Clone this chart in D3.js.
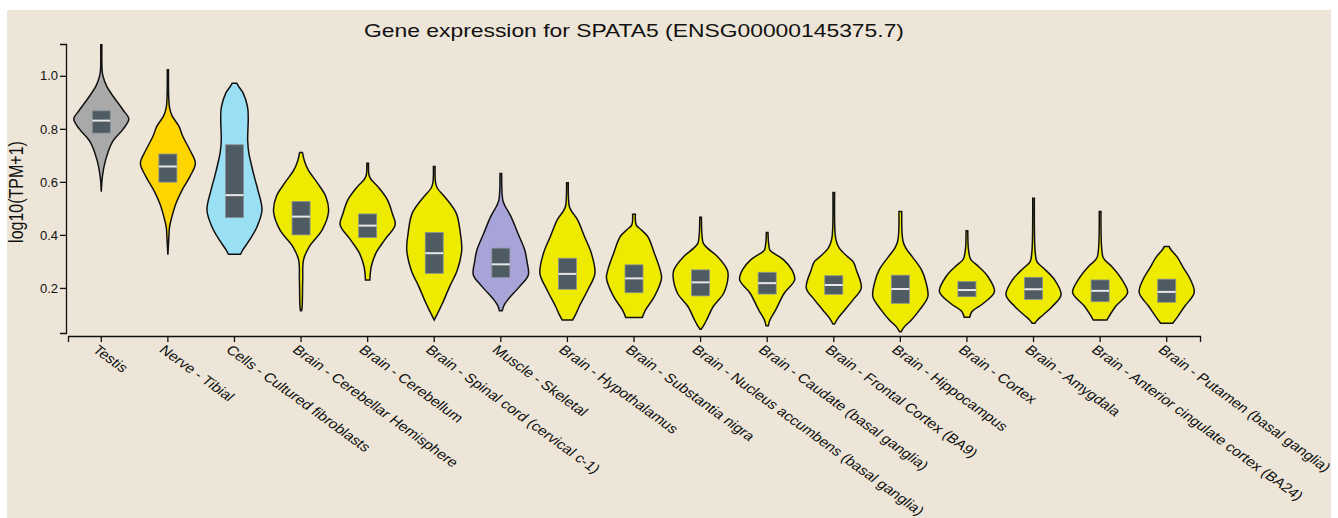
<!DOCTYPE html>
<html>
<head>
<meta charset="utf-8">
<script src="https://cdn.jsdelivr.net/npm/d3@7"></script>
<style>
  html, body { margin: 0; padding: 0; background: #ffffff; }
  svg { display: block; }
  text { font-family: "Liberation Sans", Arial, sans-serif; fill: #111; }
</style>
</head>
<body>
<svg id="chart" width="1338" height="518"></svg>
<script>
const title = "Gene expression for SPATA5 (ENSG00000145375.7)";
const yLabel = "log10(TPM+1)";

const tissues = [
  "Testis", "Nerve - Tibial", "Cells - Cultured fibroblasts",
  "Brain - Cerebellar Hemisphere", "Brain - Cerebellum",
  "Brain - Spinal cord (cervical c-1)", "Muscle - Skeletal",
  "Brain - Hypothalamus", "Brain - Substantia nigra",
  "Brain - Nucleus accumbens (basal ganglia)", "Brain - Caudate (basal ganglia)",
  "Brain - Frontal Cortex (BA9)", "Brain - Hippocampus", "Brain - Cortex",
  "Brain - Amygdala", "Brain - Anterior cingulate cortex (BA24)",
  "Brain - Putamen (basal ganglia)"
];

const fills = [
  "#a9a9a9", "#ffd500", "#99e0f5",
  "#eeea00", "#eeea00", "#eeea00", "#a9a4d8",
  "#eeea00", "#eeea00", "#eeea00", "#eeea00",
  "#eeea00", "#eeea00", "#eeea00", "#eeea00", "#eeea00", "#eeea00"
];

const q1 = [0.784, 0.599, 0.465, 0.400, 0.390, 0.255, 0.239, 0.195, 0.182, 0.170, 0.177, 0.176, 0.142, 0.167, 0.157, 0.148, 0.146];
const medians = [0.831, 0.658, 0.550, 0.469, 0.435, 0.331, 0.289, 0.253, 0.236, 0.221, 0.218, 0.211, 0.196, 0.192, 0.195, 0.189, 0.185];
const q3 = [0.868, 0.705, 0.740, 0.526, 0.479, 0.409, 0.350, 0.312, 0.287, 0.268, 0.259, 0.246, 0.248, 0.224, 0.240, 0.230, 0.233];

// violin outlines: [log10(TPM+1), relative half width]
const shapes = [
  [[0.563,0],[0.62,0.04],[0.68,0.15],[0.75,0.4],[0.80,0.8],[0.837,1],[0.87,0.8],[0.92,0.45],[0.96,0.2],[1.0,0.06],[1.02,0.03],[1.117,0.02]],
  [[0.325,0],[0.38,0.03],[0.43,0.06],[0.47,0.15],[0.52,0.3],[0.57,0.52],[0.62,0.8],[0.67,1],[0.72,0.8],[0.77,0.55],[0.81,0.4],[0.85,0.15],[0.88,0.06],[0.92,0.03],[1.023,0.02]],
  [[0.327,0.22],[0.343,0.3],[0.381,0.55],[0.431,0.82],[0.494,1],[0.57,0.85],[0.62,0.72],[0.658,0.63],[0.71,0.52],[0.758,0.48],[0.834,0.5],[0.88,0.48],[0.934,0.32],[0.96,0.15],[0.972,0.08]],
  [[0.114,0.02],[0.13,0.04],[0.23,0.06],[0.306,0.09],[0.356,0.3],[0.419,0.77],[0.488,1],[0.545,0.9],[0.595,0.6],[0.645,0.26],[0.68,0.12],[0.711,0.05]],
  [[0.23,0.08],[0.28,0.13],[0.331,0.3],[0.381,0.62],[0.438,1],[0.48,0.9],[0.532,0.72],[0.582,0.37],[0.61,0.12],[0.626,0.05],[0.67,0.03]],
  [[0.079,0.0],[0.11,0.15],[0.142,0.3],[0.205,0.56],[0.268,0.84],[0.343,1],[0.406,0.95],[0.482,0.8],[0.545,0.37],[0.575,0.12],[0.596,0.05],[0.658,0.03]],
  [[0.114,0.05],[0.135,0.12],[0.155,0.25],[0.205,0.68],[0.249,1],[0.3,0.95],[0.343,0.87],[0.406,0.62],[0.469,0.37],[0.51,0.15],[0.532,0.07],[0.632,0.03]],
  [[0.079,0.19],[0.1,0.3],[0.13,0.43],[0.192,0.74],[0.255,1],[0.331,0.87],[0.394,0.62],[0.457,0.37],[0.49,0.15],[0.507,0.07],[0.597,0.03]],
  [[0.088,0.3],[0.117,0.42],[0.167,0.74],[0.236,1],[0.268,0.95],[0.331,0.74],[0.394,0.5],[0.42,0.25],[0.438,0.08],[0.478,0.05]],
  [[0.044,0.02],[0.06,0.12],[0.079,0.22],[0.13,0.46],[0.18,0.84],[0.243,1],[0.268,0.97],[0.318,0.62],[0.35,0.25],[0.368,0.1],[0.4,0.05],[0.467,0.03]],
  [[0.057,0.04],[0.079,0.1],[0.117,0.31],[0.18,0.62],[0.23,1],[0.268,0.9],[0.306,0.6],[0.33,0.25],[0.343,0.1],[0.37,0.05],[0.409,0.03]],
  [[0.064,0.03],[0.085,0.15],[0.117,0.4],[0.155,0.7],[0.199,1],[0.268,0.82],[0.3,0.7],[0.318,0.5],[0.35,0.2],[0.381,0.08],[0.42,0.04],[0.56,0.03]],
  [[0.035,0.03],[0.054,0.15],[0.079,0.4],[0.117,0.7],[0.167,1],[0.218,0.94],[0.268,0.77],[0.318,0.43],[0.35,0.2],[0.375,0.1],[0.41,0.06],[0.488,0.05]],
  [[0.089,0.1],[0.11,0.18],[0.142,0.6],[0.186,1],[0.243,0.76],[0.28,0.43],[0.306,0.15],[0.318,0.1],[0.35,0.05],[0.416,0.03]],
  [[0.067,0.05],[0.08,0.15],[0.092,0.28],[0.13,0.68],[0.174,1],[0.23,0.77],[0.274,0.37],[0.295,0.15],[0.306,0.1],[0.35,0.05],[0.538,0.03]],
  [[0.079,0.25],[0.092,0.32],[0.13,0.56],[0.182,1],[0.23,0.8],[0.28,0.43],[0.305,0.17],[0.318,0.1],[0.36,0.05],[0.488,0.03]],
  [[0.067,0.22],[0.092,0.4],[0.13,0.65],[0.182,1],[0.23,0.87],[0.274,0.62],[0.318,0.37],[0.345,0.15],[0.356,0.09]]
];

const yTicks = [0.2, 0.4, 0.6, 0.8, 1.0];

const svg = d3.select("#chart");
svg.append("rect").attr("x", 7).attr("y", 10).attr("width", 1324).attr("height", 508).attr("fill", "#ede6d8");

const x = d3.scaleBand().domain(tissues).range([68, 1200]).padding(0);
const y = d3.scaleLinear().domain([0.03, 1.12]).range([333, 44]);
const halfW = 27.5, boxHalf = 9;
const sx = 1.23; // horizontal stretch of the reference's text

// title
svg.append("text").attr("transform", `translate(634,37) scale(${sx},1)`).attr("text-anchor", "middle")
  .style("font-size", "18.6px").text(title);

// y axis
const yAxis = svg.append("g").attr("transform", "translate(66,0)")
  .call(d3.axisLeft(y).tickValues(yTicks).tickFormat(d3.format(".1f")).tickSize(6).tickSizeOuter(6));
yAxis.selectAll("text").style("font-size", "13px").attr("x", -8);
yAxis.selectAll("path,line").attr("stroke", "#111").attr("stroke-width", 1.3);

svg.append("text").attr("transform", `translate(23,192) scale(${sx},1) rotate(-90)`)
  .attr("text-anchor", "middle").style("font-size", "16px").text(yLabel);

// x axis
const xAxis = svg.append("g").attr("transform", "translate(0,336)")
  .call(d3.axisBottom(x).tickSize(6).tickSizeOuter(6));
xAxis.selectAll("path,line").attr("stroke", "#111").attr("stroke-width", 1.3);
xAxis.selectAll("text")
  .style("font-size", "13px")
  .attr("text-anchor", "start")
  .attr("x", 0).attr("y", 0).attr("dy", "0")
  .attr("transform", `translate(-3,9) scale(${sx},1) rotate(41.8) translate(0,8)`);

// violins
const g = svg.append("g");
tissues.forEach((t, i) => {
  const cx = x(t) + x.bandwidth() / 2;
  const area = d3.area()
    .y(d => y(d[0]))
    .x0(d => cx - d[1] * halfW)
    .x1(d => cx + d[1] * halfW)
    .curve(d3.curveCatmullRom.alpha(0.5));
  g.append("path").attr("d", area(shapes[i]))
    .attr("fill", fills[i]).attr("stroke", "#111").attr("stroke-width", 1.5);
  g.append("rect").attr("x", cx - boxHalf).attr("width", boxHalf * 2)
    .attr("y", y(q3[i])).attr("height", y(q1[i]) - y(q3[i]))
    .attr("fill", "#4e5b63").attr("stroke", "#8a9398").attr("stroke-width", 0.8);
  g.append("line").attr("x1", cx - boxHalf).attr("x2", cx + boxHalf)
    .attr("y1", y(medians[i])).attr("y2", y(medians[i]))
    .attr("stroke", "#e6e6e6").attr("stroke-width", 2);
});
</script>
</body>
</html>
